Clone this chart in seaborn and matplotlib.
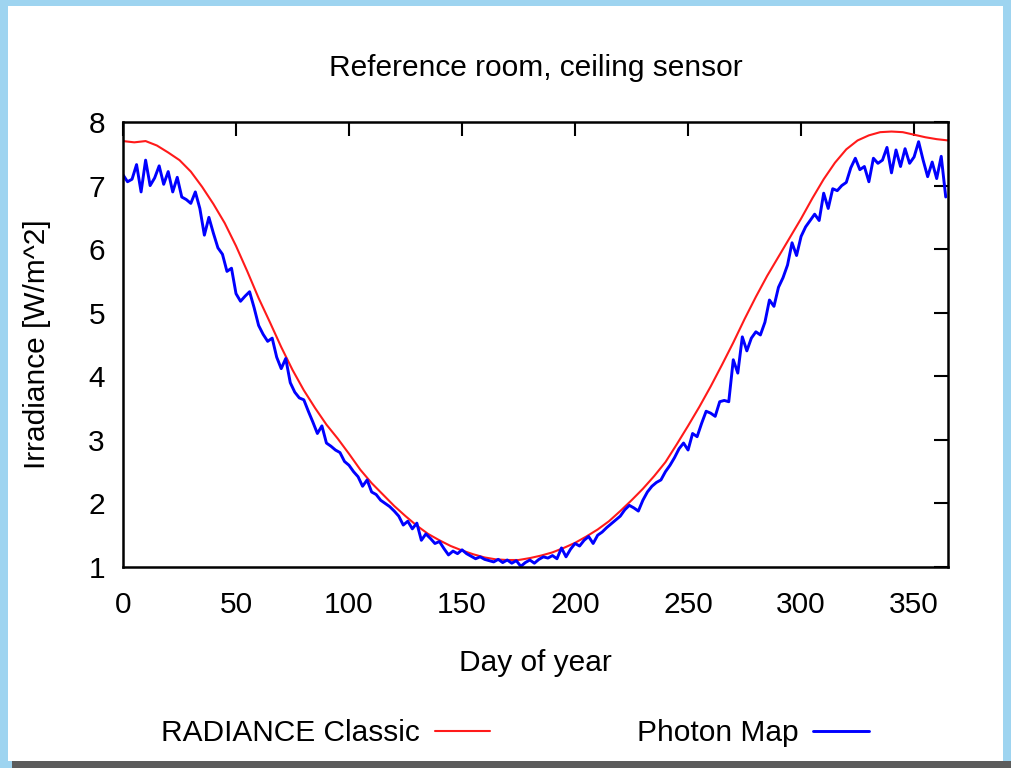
import numpy as np
import pandas as pd
import matplotlib
matplotlib.use("Agg")
import matplotlib.pyplot as plt
from matplotlib.patches import Rectangle
import seaborn as sns

# ---- data ----
red_days = list(range(0, 366, 5))
red_values = [7.70, 7.68, 7.70, 7.63, 7.52, 7.40, 7.22, 6.98, 6.71, 6.41,
              6.05, 5.65, 5.23, 4.85, 4.46, 4.10, 3.78, 3.50, 3.24, 3.02,
              2.78, 2.53, 2.32, 2.14, 1.96, 1.80, 1.65, 1.52, 1.42, 1.33,
              1.26, 1.20, 1.15, 1.12, 1.11, 1.11, 1.14, 1.18, 1.23, 1.30,
              1.38, 1.48, 1.59, 1.72, 1.88, 2.05, 2.23, 2.43, 2.65, 2.93,
              3.22, 3.52, 3.84, 4.18, 4.53, 4.90, 5.25, 5.58, 5.88, 6.18,
              6.48, 6.80, 7.10, 7.36, 7.57, 7.71, 7.79, 7.84, 7.85, 7.84,
              7.80, 7.76, 7.73, 7.71]

blue_days = list(range(0, 365, 2))
blue_values = [7.17, 7.06, 7.10, 7.33, 6.90, 7.40, 7.00, 7.12, 7.31, 7.02,
               7.22, 6.90, 7.13, 6.82, 6.78, 6.72, 6.90, 6.64, 6.22, 6.50,
               6.25, 6.02, 5.92, 5.65, 5.70, 5.30, 5.18, 5.26, 5.33, 5.08,
               4.80, 4.66, 4.55, 4.60, 4.30, 4.12, 4.28, 3.90, 3.75, 3.66,
               3.63, 3.45, 3.28, 3.10, 3.22, 2.95, 2.90, 2.84, 2.80, 2.66,
               2.60, 2.50, 2.42, 2.27, 2.37, 2.18, 2.14, 2.05, 2.00, 1.95,
               1.88, 1.80, 1.66, 1.72, 1.60, 1.69, 1.42, 1.52, 1.45, 1.37,
               1.40, 1.29, 1.19, 1.25, 1.21, 1.27, 1.21, 1.17, 1.13, 1.16,
               1.12, 1.10, 1.08, 1.12, 1.07, 1.11, 1.06, 1.10, 1.01, 1.07,
               1.11, 1.06, 1.12, 1.16, 1.14, 1.18, 1.13, 1.30, 1.16, 1.28,
               1.37, 1.33, 1.42, 1.48, 1.37, 1.50, 1.55, 1.62, 1.68, 1.74,
               1.80, 1.90, 1.97, 1.93, 1.88, 2.05, 2.18, 2.27, 2.33, 2.37,
               2.50, 2.60, 2.72, 2.86, 2.95, 2.84, 3.10, 3.05, 3.26, 3.45,
               3.42, 3.37, 3.60, 3.62, 3.60, 4.26, 4.05, 4.62, 4.40, 4.60,
               4.70, 4.65, 4.85, 5.20, 5.10, 5.40, 5.55, 5.75, 6.10, 5.90,
               6.20, 6.35, 6.45, 6.55, 6.45, 6.88, 6.64, 6.95, 6.92, 7.00,
               7.05, 7.28, 7.43, 7.25, 7.30, 7.06, 7.43, 7.35, 7.40, 7.60,
               7.20, 7.56, 7.30, 7.58, 7.35, 7.45, 7.69, 7.40, 7.14, 7.37,
               7.11, 7.46, 6.82]

series_names = ["RADIANCE Classic", "Photon Map"]
title = "Reference room, ceiling sensor"
x_label = "Day of year"
y_label = "Irradiance [W/m^2]"
x_ticks = [0, 50, 100, 150, 200, 250, 300, 350]
y_ticks = [1, 2, 3, 4, 5, 6, 7, 8]

df_red = pd.DataFrame({"day": red_days, "value": red_values})
df_blue = pd.DataFrame({"day": blue_days, "value": blue_values})

sns.set_theme(style="white")
plt.rcParams["font.family"] = ["Liberation Sans", "DejaVu Sans"]
plt.rcParams["text.color"] = "black"
plt.rcParams["axes.labelcolor"] = "black"
plt.rcParams["xtick.color"] = "black"
plt.rcParams["ytick.color"] = "black"

W, H = 1011, 768
fig = plt.figure(figsize=(W / 100, H / 100), dpi=100)
fig.patch.set_facecolor("#9ed4f0")
# white page and dark bottom strip (frame decoration)
fig.patches.append(Rectangle((8 / W, 1 - 761 / H), (1003 - 8) / W, (761 - 6) / H,
                             transform=fig.transFigure, facecolor="white",
                             edgecolor="none", zorder=-10))
fig.patches.append(Rectangle((12 / W, 0), (W - 12) / W, 7 / H,
                             transform=fig.transFigure, facecolor="#5c5c5c",
                             edgecolor="none", zorder=-9))

L, R, T, B = 123, 948, 122, 567
ax = fig.add_axes([L / W, 1 - B / H, (R - L) / W, (B - T) / H])
ax.set_facecolor("white")

sns.lineplot(data=df_red, x="day", y="value", ax=ax, color="#ff1a1a",
             linewidth=1.5, label=series_names[0])
sns.lineplot(data=df_blue, x="day", y="value", ax=ax, color="#0000ff",
             linewidth=2.1, label=series_names[1])

ax.set_xlim(0, 365)
ax.set_ylim(1, 8)
ax.set_xticks(x_ticks)
ax.set_yticks(y_ticks)
fs = 21.5
ax.tick_params(axis="both", which="major", direction="in", length=10, width=1.5,
               top=True, right=True, colors="black", labelsize=fs)
ax.tick_params(axis="x", pad=17)
ax.tick_params(axis="y", pad=13)
for s in ax.spines.values():
    s.set_visible(True)
    s.set_color("black")
    s.set_linewidth(1.8)

ax.set_title(title, fontsize=fs, pad=0, y=(B - 68) / (B - T), va="center",
             color="black")
ax.set_xlabel(x_label, fontsize=fs, va="center")
ax.xaxis.set_label_coords(0.5, (B - 663) / (B - T))
ax.set_ylabel(y_label, fontsize=fs, va="center")
ax.yaxis.set_label_coords((37 - L) / (R - L), 0.5)

handles, labels = ax.get_legend_handles_labels()
leg = ax.legend(handles, labels, loc="center", bbox_to_anchor=(515 / W, 1 - 733 / H),
                bbox_transform=fig.transFigure, ncol=2, markerfirst=False,
                frameon=False, fontsize=fs, handlelength=1.85, handletextpad=0.5,
                columnspacing=4.9)
for t in leg.get_texts():
    t.set_color("black")

fig.savefig("out.png", dpi=100, facecolor=fig.get_facecolor())
